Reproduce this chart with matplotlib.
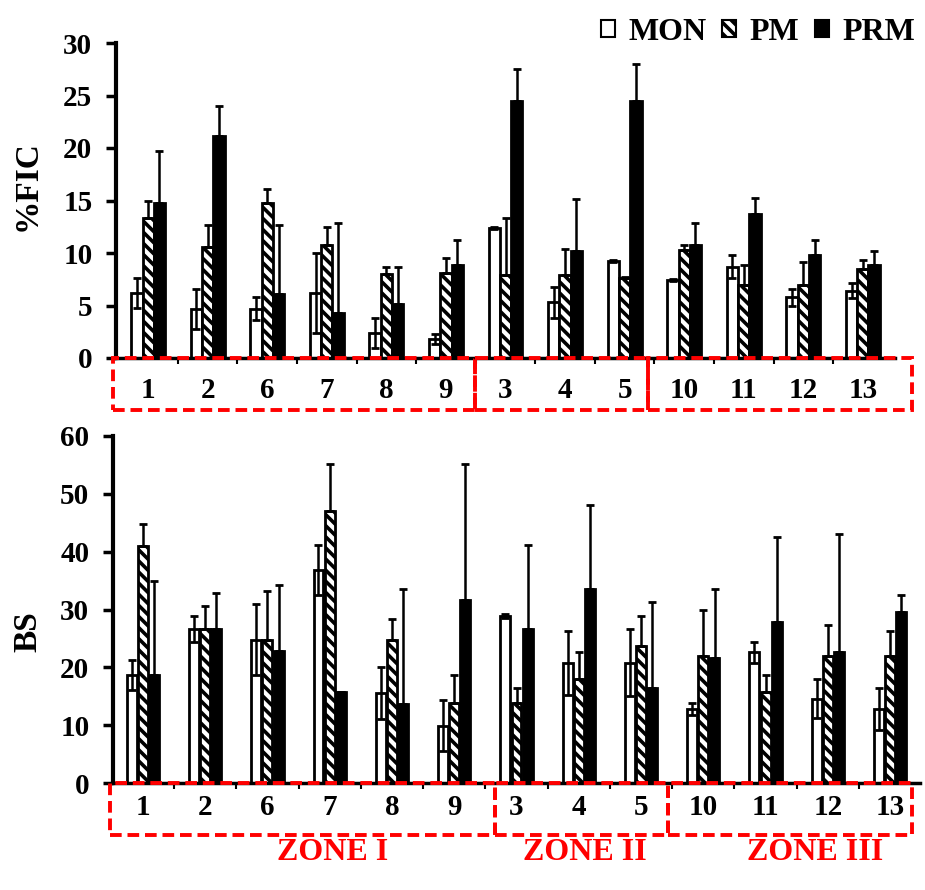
import numpy as np
import matplotlib.pyplot as plt
from matplotlib.patches import Rectangle

plt.rcParams["font.family"] = ["Liberation Serif", "DejaVu Serif"]
plt.rcParams["font.weight"] = "bold"
plt.rcParams["hatch.linewidth"] = 2.6

# ── Data ──────────────────────────────────────────────────────────────────────
sites = ["1", "2", "6", "7", "8", "9", "3", "4", "5", "10", "11", "12", "13"]
series = ["MON", "PM", "PRM"]

fic_mon = [6.2, 4.7, 4.7, 6.2, 2.4, 1.8, 12.4, 5.3, 9.2, 7.4, 8.7, 5.8, 6.4]
fic_pm = [13.3, 10.6, 14.8, 10.8, 8.0, 8.1, 7.9, 7.9, 7.6, 10.3, 7.0, 7.0, 8.5]
fic_prm = [14.8, 21.1, 6.1, 4.3, 5.1, 8.9, 24.5, 10.2, 24.5, 10.8, 13.7, 9.8, 8.9]
fic_mon_err = [1.4, 1.9, 1.1, 3.8, 1.4, 0.5, 0.1, 1.5, 0.1, 0.1, 1.1, 0.8, 0.7]
fic_pm_err = [1.7, 2.1, 1.3, 1.7, 0.7, 1.4, 5.4, 2.5, 0.1, 0.5, 1.9, 2.1, 0.8]
fic_prm_err = [4.9, 2.9, 6.6, 8.6, 3.6, 2.3, 3.0, 4.9, 3.5, 2.1, 1.5, 1.4, 1.3]

bs_mon = [18.6, 26.6, 24.8, 36.8, 15.6, 9.9, 28.9, 20.8, 20.8, 12.8, 22.6, 14.6, 12.8]
bs_pm = [40.9, 26.6, 24.8, 47.1, 24.8, 13.9, 13.9, 18.0, 23.7, 21.9, 15.8, 21.9, 21.9]
bs_prm = [18.6, 26.7, 22.8, 15.8, 13.6, 31.7, 26.7, 33.6, 16.5, 21.6, 27.8, 22.7, 29.6]
bs_mon_err = [2.6, 2.3, 6.2, 4.3, 4.5, 4.4, 0.3, 5.5, 5.8, 1.0, 1.8, 3.3, 3.6]
bs_pm_err = [3.9, 4.0, 8.4, 8.0, 3.6, 4.7, 2.6, 4.7, 5.2, 8.0, 2.8, 5.5, 4.4]
bs_prm_err = [16.4, 6.1, 11.5, 0.0, 19.9, 23.4, 14.4, 14.5, 14.8, 11.9, 14.8, 20.3, 2.9]

zones = ["ZONE I", "ZONE II", "ZONE III"]

W, H = 925, 890
fig = plt.figure(figsize=(9.25, 8.9), dpi=100)


def px(x0, y0, x1, y1):
    # pixel box -> figure fraction [left, bottom, width, height]
    return [x0 / W, 1 - y1 / H, (x1 - x0) / W, (y1 - y0) / H]


def draw_panel(ax, mon, pm, prm, emon, epm, eprm, ymax, step, ylabel, width, off, xpad):
    x = np.arange(len(sites))
    ax.bar(x - off, mon, width, color="white", edgecolor="black", linewidth=2, zorder=2)
    ax.bar(x, pm, width, color="white", edgecolor="black", linewidth=2, hatch="\\\\\\", zorder=2)
    ax.bar(x + off, prm, width, color="black", edgecolor="black", linewidth=2, zorder=2)
    ek = dict(fmt="none", ecolor="black", elinewidth=1.8, capsize=3, capthick=2, zorder=3)
    ax.errorbar(x - off, mon, yerr=emon, **ek)
    ax.errorbar(x, pm, yerr=[np.zeros(len(pm)), epm], **ek)
    ax.errorbar(x + off, prm, yerr=[np.zeros(len(prm)), eprm], **ek)
    ax.set_ylim(0, ymax)
    ax.set_yticks(np.arange(0, ymax + 1, step))
    ax.set_xticks(x)
    ax.set_xticklabels(sites, fontsize=21, fontweight="bold")
    ax.tick_params(axis="x", length=0, pad=xpad)
    ax.set_xticks(x[:-1] + 0.5, minor=True)
    ax.tick_params(axis="x", which="minor", length=4, width=1.5, direction="out")
    ax.tick_params(axis="y", length=7, width=2.5, labelsize=21, pad=10)
    for lab in ax.get_yticklabels():
        lab.set_fontweight("bold")
    ax.set_ylabel(ylabel, fontsize=24, fontweight="bold")
    for s in ["top", "right"]:
        ax.spines[s].set_visible(False)
    ax.spines["left"].set_linewidth(3)
    ax.spines["bottom"].set_linewidth(2.5)


# top panel
ax1 = fig.add_axes(px(116, 43, 895, 358))
draw_panel(ax1, fic_mon, fic_pm, fic_prm, fic_mon_err, fic_pm_err, fic_prm_err,
           30, 5, "%FIC", 0.19, 0.19, 14)
ax1.set_xlim(-0.54, 12.54)
ax1.yaxis.set_label_coords(-0.094, 0.546)

# bottom panel
ax2 = fig.add_axes(px(113, 436, 920, 783))
draw_panel(ax2, bs_mon, bs_pm, bs_prm, bs_mon_err, bs_pm_err, bs_prm_err,
           60, 10, "BS", 0.16, 0.18, 8)
ax2.set_xlim(-0.48, 12.48)
ax2.yaxis.set_label_coords(-0.086, 0.435)

# red dashed zone boxes
for edges, y0, y1 in [([113, 475, 648, 912], 358, 410), ([110, 495, 668, 912], 783, 835)]:
    for a, b in zip(edges[:-1], edges[1:]):
        r = Rectangle((a / W, 1 - y1 / H), (b - a) / W, (y1 - y0) / H,
                      transform=fig.transFigure, fill=False, edgecolor="red",
                      linewidth=2.8, linestyle=(0, (3, 1.5)), zorder=5)
        fig.add_artist(r)

# zone titles
for name, xc in zip(zones, [333, 585, 815]):
    fig.text(xc / W, 1 - 852 / H, name, color="red", fontsize=23,
             fontweight="bold", ha="center", va="center")

# legend
handles = [
    Rectangle((0, 0), 1, 1, facecolor="white", edgecolor="black", linewidth=1.5),
    Rectangle((0, 0), 1, 1, facecolor="white", edgecolor="black", linewidth=1.5, hatch="\\\\\\"),
    Rectangle((0, 0), 1, 1, facecolor="black", edgecolor="black", linewidth=1.5),
]
fig.legend(handles, series, loc="upper right", bbox_to_anchor=(1.02, 1.012), ncol=3,
           frameon=False, handlelength=0.45, handleheight=0.45, handletextpad=0.4,
           columnspacing=0.5, prop={"family": "Liberation Serif", "weight": "bold", "size": 23})

plt.savefig("out.png", dpi=100)
